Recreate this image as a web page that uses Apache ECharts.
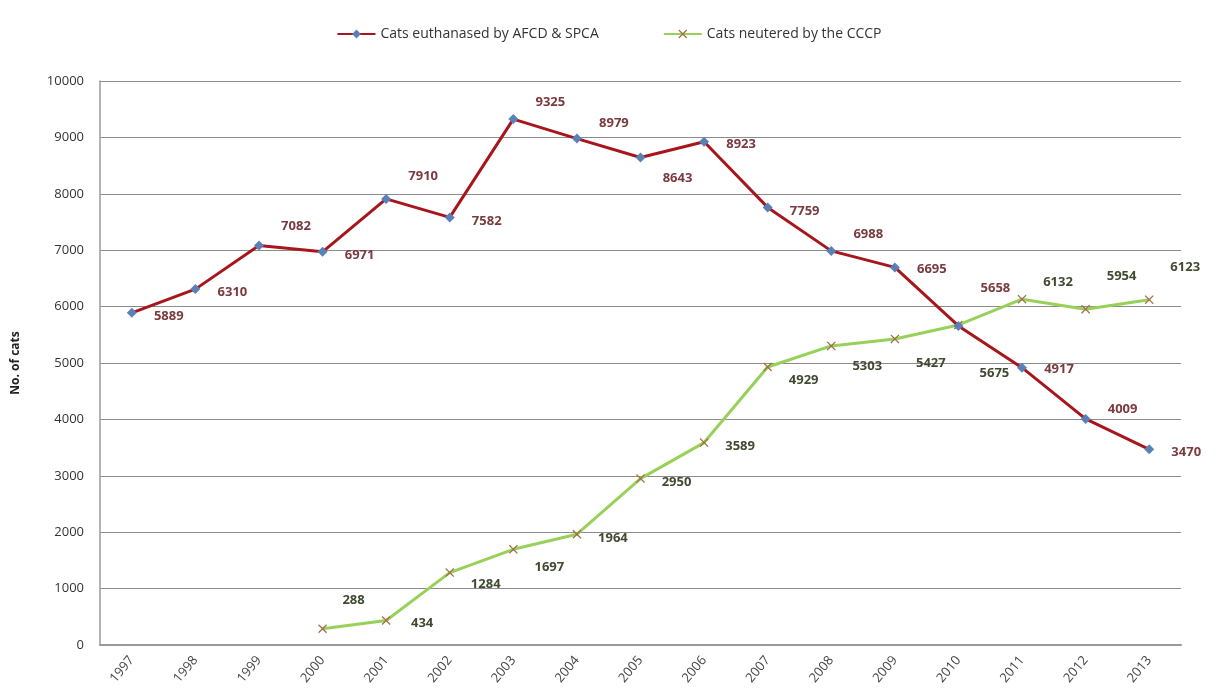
<!DOCTYPE html>
<html>
<head>
<meta charset="utf-8">
<script src="https://cdn.jsdelivr.net/npm/echarts@6/dist/echarts.min.js"></script>
<style>
html,body{margin:0;padding:0;background:#fff;}
#chart{width:1218px;height:699px;}
</style>
</head>
<body>
<div id="chart"></div>
<script>
const years = ['1997','1998','1999','2000','2001','2002','2003','2004','2005','2006','2007','2008','2009','2010','2011','2012','2013'];
const euthanased = [5889, 6310, 7082, 6971, 7910, 7582, 9325, 8979, 8643, 8923, 7759, 6988, 6695, 5658, 4917, 4009, 3470];
const neutered = [null, null, null, 288, 434, 1284, 1697, 1964, 2950, 3589, 4929, 5303, 5427, 5675, 6132, 5954, 6123];
const seriesNames = ['Cats euthanased by AFCD & SPCA', 'Cats neutered by the CCCP'];

// label placement (vertical shift of each value label, px)
const euthLabelDy = [3, 3, -19, 3, -23, 4, -17, -15, 21, 3, 4, -17, 2, -38, 2, -10, 3];
const neutLabelDy = [0, 0, 0, -28, 3, 12, 18, 4, 4, 4, 13, 20, 24, 48, -17, -33, -32];
const euthLabelDx = 37;
const neutLabelDx = 36;

const xShape = 'path://M0,1 L1,0 L5,4 L9,0 L10,1 L6,5 L10,9 L9,10 L5,6 L1,10 L0,9 L4,5 Z';

function build(values, dys, dx, dx0) {
  return values.map((v, i) => ({
    value: v,
    label: { offset: [i === 3 && dx0 ? dx0 : dx, dys[i]] }
  }));
}

const chart = echarts.init(document.getElementById('chart'), null, {renderer: 'canvas'});
const font = '"Open Sans", Lato, "Liberation Sans", sans-serif';
chart.setOption({
  animation: false,
  textStyle: { fontFamily: font },
  legend: {
    top: 22,
    left: 'center',
    itemWidth: 38,
    itemHeight: 11,
    itemGap: 64,
    textStyle: { fontSize: 14, color: '#333', fontFamily: font },
    data: seriesNames
  },
  grid: { left: 100, right: 37, top: 81, bottom: 54 },
  xAxis: {
    type: 'category',
    data: years,
    boundaryGap: true,
    axisLine: { lineStyle: { color: '#9a9a9a', width: 2 } },
    axisTick: { show: false },
    axisLabel: { rotate: 50, fontSize: 13, color: '#444', margin: 13, fontFamily: font }
  },
  yAxis: {
    type: 'value',
    min: 0, max: 10000, interval: 1000,
    name: 'No. of cats',
    nameLocation: 'middle',
    nameRotate: 90,
    nameGap: 78,
    nameTextStyle: { fontSize: 12, fontWeight: 'bold', color: '#222', fontFamily: font },
    axisLine: { show: true, lineStyle: { color: '#9a9a9a', width: 1.5 } },
    axisTick: { show: false },
    axisLabel: { fontSize: 13, color: '#333', margin: 16, fontFamily: font, formatter: v => String(v) },
    splitLine: { lineStyle: { color: '#8c8c8c', width: 1.2 } }
  },
  series: [
    {
      name: seriesNames[0],
      type: 'line',
      z: 3,
      data: build(euthanased, euthLabelDy, euthLabelDx),
      symbol: 'diamond',
      symbolSize: 10,
      lineStyle: { color: '#a8161d', width: 3 },
      itemStyle: { color: '#5a80b8' },
      label: {
        show: true,
        position: 'inside',
        fontSize: 13,
        fontWeight: 'bold',
        color: '#7a3a3e',
        fontFamily: font
      }
    },
    {
      name: seriesNames[1],
      type: 'line',
      z: 2,
      data: build(neutered, neutLabelDy, neutLabelDx, 31),
      symbol: xShape,
      symbolSize: 9,
      lineStyle: { color: '#98d15a', width: 3 },
      itemStyle: { color: '#a56f48' },
      label: {
        show: true,
        position: 'inside',
        fontSize: 13,
        fontWeight: 'bold',
        color: '#3f4a30',
        fontFamily: font
      }
    }
  ]
});
</script>
</body>
</html>
